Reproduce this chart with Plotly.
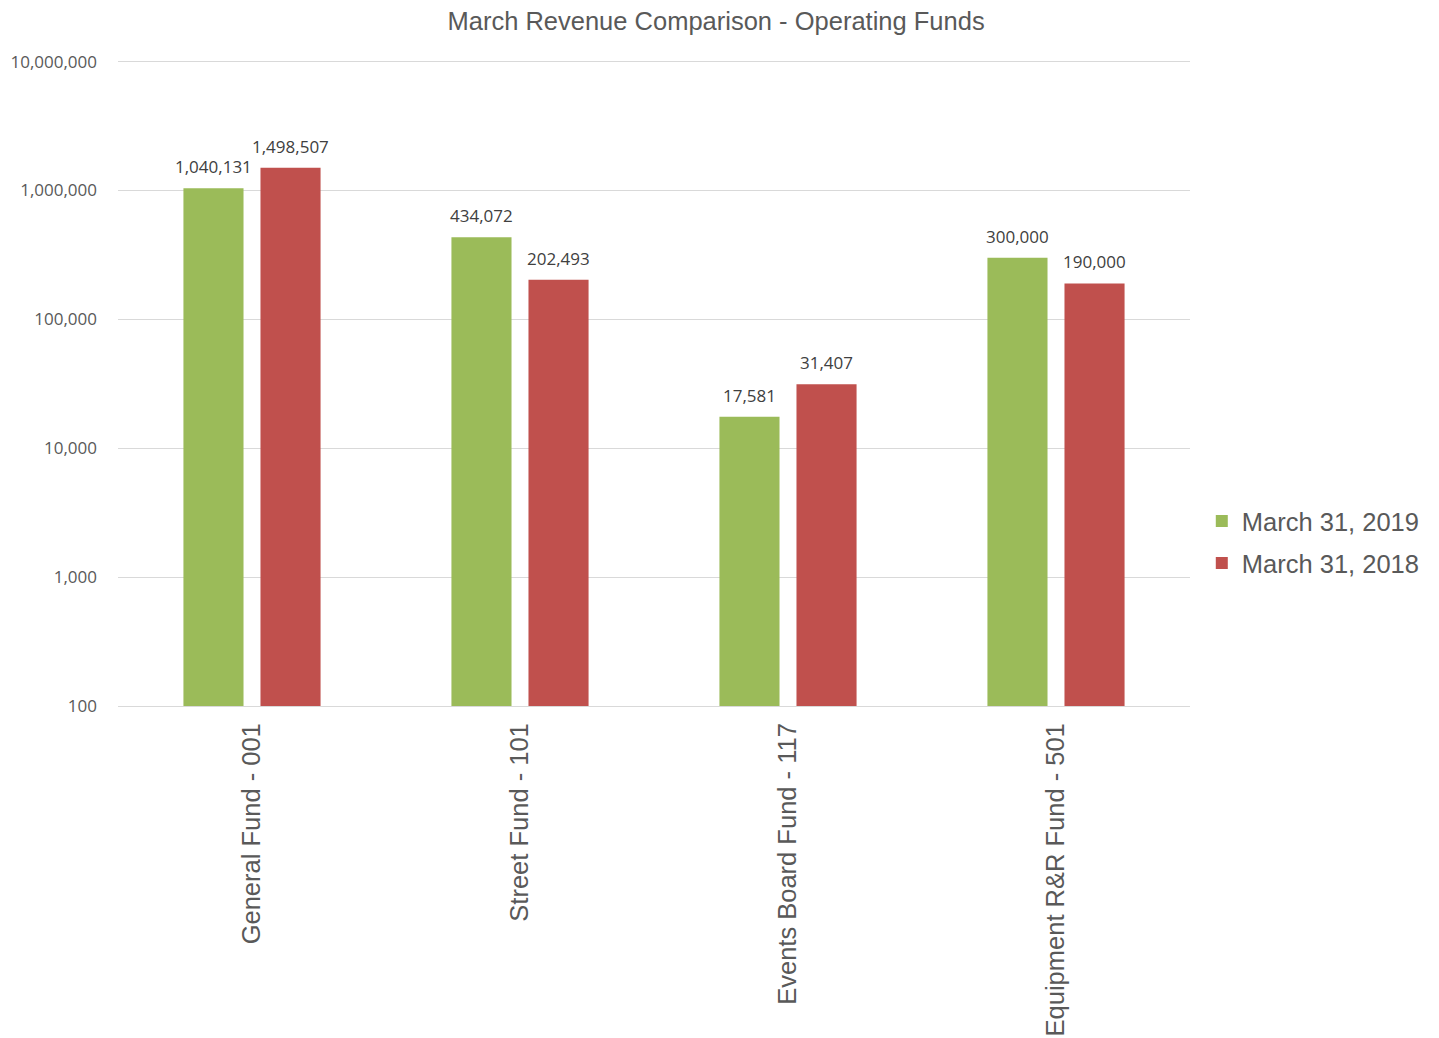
import math
import plotly.graph_objects as go

funds = ["General Fund - 001", "Street Fund - 101", "Events Board Fund - 117", "Equipment R&R Fund - 501"]
rev_2019 = [1040131, 434072, 17581, 300000]
rev_2018 = [1498507, 202493, 31407, 190000]
series_names = ["March 31, 2019", "March 31, 2018"]
tick_vals = [100, 1000, 10000, 100000, 1000000, 10000000]

GREEN = "#9BBB59"
RED = "#C0504D"
TEXT = "#595959"
label_font = dict(family="Open Sans, sans-serif", size=17, color="#404040")
arial = "Liberation Sans, Arial, sans-serif"

fig = go.Figure()
series = [(series_names[0], rev_2019, GREEN, -38.5), (series_names[1], rev_2018, RED, 38.5)]
for name, vals, color, shift in series:
    fig.add_trace(
        go.Bar(
            x=funds,
            y=vals,
            name=name,
            legendgroup=name,
            marker=dict(color=color, line=dict(width=0)),
        )
    )
    # value labels sit a bit higher above the bars than plotly's own outside text
    # (annotation y on a log axis is given in log10 units)
    for fund, v in zip(funds, vals):
        fig.add_annotation(
            x=fund,
            y=math.log10(v),
            text=f"{v:,}",
            showarrow=False,
            xshift=shift,
            yshift=8,
            yanchor="bottom",
            font=label_font,
        )

# page body has an 8px margin, so the figure is sized/offset to compensate
fig.update_layout(
    width=1431,
    height=1030,
    paper_bgcolor="white",
    plot_bgcolor="white",
    barmode="group",
    bargap=0.425,
    bargroupgap=0.22,
    margin=dict(l=110, r=249, t=51.4, b=332),
    title=dict(
        text="March Revenue Comparison - Operating Funds",
        x=0.4948,
        xref="container",
        y=1 - 13 / 1030,
        yanchor="middle",
        font=dict(family=arial, size=25.5, color=TEXT),
    ),
    legend=dict(
        x=1.011,
        xanchor="left",
        y=0.253,
        yanchor="middle",
        traceorder="grouped",
        tracegroupgap=6,
        font=dict(family=arial, size=25.5, color=TEXT),
        itemwidth=30,
    ),
    xaxis=dict(
        tickangle=-90,
        tickfont=dict(family=arial, size=25.5, color=TEXT),
        showline=True,
        linecolor="#D9D9D9",
        linewidth=1,
        ticks="",
        ticklabelstandoff=6,
        automargin=False,
    ),
    yaxis=dict(
        type="log",
        range=[2, 7.02],
        tickvals=tick_vals,
        tickformat=",",
        tickfont=dict(family="Open Sans, sans-serif", size=17, color=TEXT),
        showgrid=True,
        gridcolor="#D9D9D9",
        gridwidth=1,
        zeroline=False,
        ticks="",
        ticklabelstandoff=20,
        automargin=False,
    ),
)

fig.write_html("out.html")
